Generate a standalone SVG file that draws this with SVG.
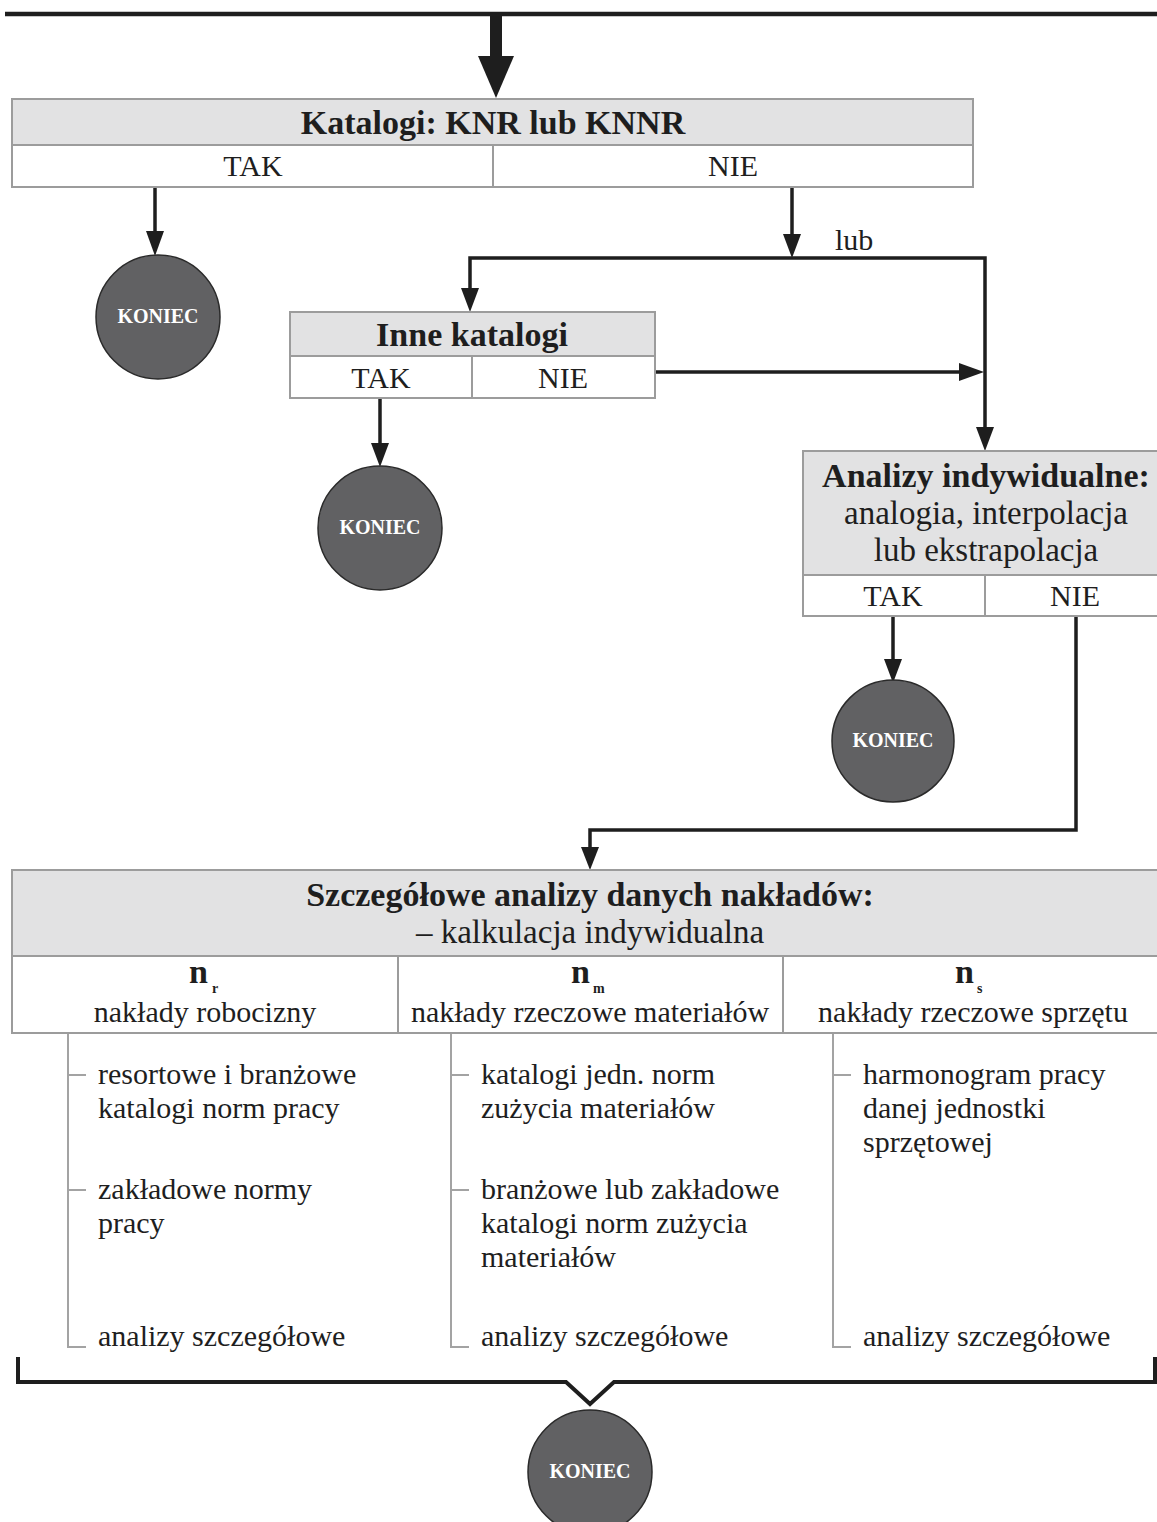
<svg xmlns="http://www.w3.org/2000/svg" width="1157" height="1522" viewBox="0 0 1157 1522">
<defs>
<style>
.hdr{fill:#e2e2e3;stroke:#9c9c9c;stroke-width:2}
.row{fill:#ffffff;stroke:#9c9c9c;stroke-width:2}
.div{stroke:#9c9c9c;stroke-width:2}
.t{font-family:"Liberation Serif","Times New Roman",serif;fill:#1e1e1e}
.b{font-weight:bold}
.c{text-anchor:middle}
.s30{font-size:30px}
.s33{font-size:33px}
.s34{font-size:34px}
.end{fill:#616163;stroke:#2a2a2a;stroke-width:1.5}
.endt{font-family:"Liberation Serif","Times New Roman",serif;font-weight:bold;font-size:20px;fill:#ffffff;text-anchor:middle}
.con{fill:none;stroke:#1e1e1e;stroke-width:3.5}
.list{fill:none;stroke:#a3a3a3;stroke-width:2}
.head{fill:#1e1e1e}
</style>
</defs>

<g id="connectors">
<line x1="5" y1="14" x2="1157" y2="14" stroke="#1e1e1e" stroke-width="4.5"/>
<rect x="490" y="14" width="12" height="44" class="head"/>
<path class="head" d="M478,56 L514,56 L496,98 Z"/>
<path class="con" d="M155,188 V232"/>
<path class="head" d="M146,231 L164,231 L155,256 Z"/>
<path class="con" d="M792,188 V235"/>
<path class="head" d="M783,234 L801,234 L792,258 Z"/>
<path class="con" d="M470,289 V258 H985 V428"/>
<path class="head" d="M461,288 L479,288 L470,312 Z"/>
<path class="head" d="M976,427 L994,427 L985,451 Z"/>
<path class="con" d="M655,372 H960"/>
<path class="head" d="M959,363 L984,372 L959,381 Z"/>
<path class="con" d="M380,398 V444"/>
<path class="head" d="M371,443 L389,443 L380,467 Z"/>
<path class="con" d="M893,617 V660"/>
<path class="head" d="M884,659 L902,659 L893,683 Z"/>
<path class="con" d="M1076,617 V830 H590 V848"/>
<path class="head" d="M581,847 L599,847 L590,870 Z"/>
<path d="M18,1357 V1382 H566 L590,1404 L614,1382 H1155 V1357" fill="none" stroke="#1e1e1e" stroke-width="4"/>
</g>

<g id="katalogi-knr">
<rect class="hdr" x="12" y="99" width="961" height="46"/>
<rect class="row" x="12" y="145" width="961" height="42"/>
<line class="div" x1="493" y1="145" x2="493" y2="187"/>
<text class="t b c s34" x="493" y="134">Katalogi: KNR lub KNNR</text>
<text class="t c s30" x="253" y="176">TAK</text>
<text class="t c s30" x="733" y="176">NIE</text>
</g>

<g id="koniec-1">
<circle class="end" cx="158" cy="317" r="62"/>
<text class="endt" x="158" y="323">KONIEC</text>
</g>

<text id="lub-label" class="t s30" x="835" y="250">lub</text>

<g id="inne-katalogi">
<rect class="hdr" x="290" y="312" width="365" height="44"/>
<rect class="row" x="290" y="356" width="365" height="42"/>
<line class="div" x1="472" y1="356" x2="472" y2="398"/>
<text class="t b c s34" x="472" y="346">Inne katalogi</text>
<text class="t c s30" x="381" y="388">TAK</text>
<text class="t c s30" x="563" y="388">NIE</text>
</g>

<g id="koniec-2">
<circle class="end" cx="380" cy="528" r="62"/>
<text class="endt" x="380" y="534">KONIEC</text>
</g>

<g id="analizy-indywidualne">
<rect class="hdr" x="803" y="451" width="360" height="124"/>
<rect class="row" x="803" y="575" width="360" height="41"/>
<line class="div" x1="985" y1="575" x2="985" y2="616"/>
<text class="t b c s34" x="986" y="487">Analizy indywidualne:</text>
<text class="t c s33" x="986" y="524">analogia, interpolacja</text>
<text class="t c s33" x="986" y="561">lub ekstrapolacja</text>
<text class="t c s30" x="893" y="606">TAK</text>
<text class="t c s30" x="1075" y="606">NIE</text>
</g>

<g id="koniec-3">
<circle class="end" cx="893" cy="741" r="61"/>
<text class="endt" x="893" y="747">KONIEC</text>
</g>

<g id="szczegolowe-analizy">
<rect class="hdr" x="12" y="870" width="1151" height="86"/>
<rect class="row" x="12" y="956" width="1151" height="77"/>
<line class="div" x1="398" y1="956" x2="398" y2="1033"/>
<line class="div" x1="783" y1="956" x2="783" y2="1033"/>
<text class="t b c s34" x="590" y="906">Szczegółowe analizy danych nakładów:</text>
<text class="t c s33" x="590" y="943">– kalkulacja indywidualna</text>
<text class="t b" x="189" y="983" font-size="34">n</text>
<text class="t b" x="212" y="993" font-size="14">r</text>
<text class="t c s30" x="205" y="1022">nakłady robocizny</text>
<text class="t b" x="571" y="983" font-size="34">n</text>
<text class="t b" x="593" y="993" font-size="14">m</text>
<text class="t c s30" x="590" y="1022">nakłady rzeczowe materiałów</text>
<text class="t b" x="955" y="983" font-size="34">n</text>
<text class="t b" x="977" y="993" font-size="14">s</text>
<text class="t c s30" x="973" y="1022">nakłady rzeczowe sprzętu</text>
</g>

<g id="lista-robocizny">
<path class="list" d="M68,1034 V1347 H86 M68,1075 H86 M68,1190 H86"/>
<text class="t s30" x="98" y="1084">resortowe i branżowe</text>
<text class="t s30" x="98" y="1118">katalogi norm pracy</text>
<text class="t s30" x="98" y="1199">zakładowe normy</text>
<text class="t s30" x="98" y="1233">pracy</text>
<text class="t s30" x="98" y="1346">analizy szczegółowe</text>
</g>

<g id="lista-materialow">
<path class="list" d="M451,1034 V1347 H469 M451,1075 H469 M451,1190 H469"/>
<text class="t s30" x="481" y="1084">katalogi jedn. norm</text>
<text class="t s30" x="481" y="1118">zużycia materiałów</text>
<text class="t s30" x="481" y="1199">branżowe lub zakładowe</text>
<text class="t s30" x="481" y="1233">katalogi norm zużycia</text>
<text class="t s30" x="481" y="1267">materiałów</text>
<text class="t s30" x="481" y="1346">analizy szczegółowe</text>
</g>

<g id="lista-sprzetu">
<path class="list" d="M833,1034 V1347 H851 M833,1075 H851"/>
<text class="t s30" x="863" y="1084">harmonogram pracy</text>
<text class="t s30" x="863" y="1118">danej jednostki</text>
<text class="t s30" x="863" y="1152">sprzętowej</text>
<text class="t s30" x="863" y="1346">analizy szczegółowe</text>
</g>

<g id="koniec-4">
<circle class="end" cx="590" cy="1472" r="62"/>
<text class="endt" x="590" y="1478">KONIEC</text>
</g>
</svg>
